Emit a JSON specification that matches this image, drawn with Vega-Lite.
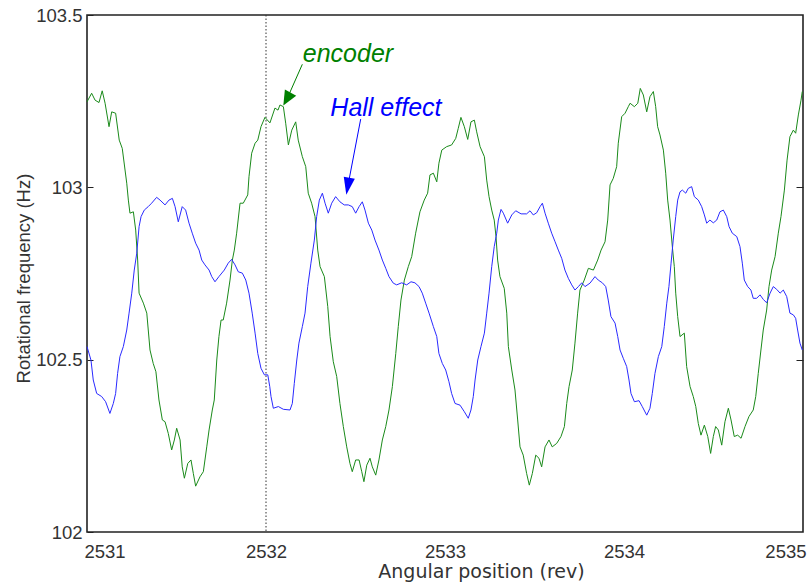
{
  "$schema": "https://vega.github.io/schema/vega-lite/v6.json",
  "width": 716,
  "height": 517,
  "autosize": {"type": "none"},
  "padding": {"left": 87, "top": 15, "right": 6, "bottom": 55},
  "background": "white",
  "config": {
    "view": {"stroke": "#222222", "strokeWidth": 1.6},
    "font": "Liberation Sans",
    "axis": {"labelFont": "Liberation Sans", "titleFont": "Liberation Sans", "labelColor": "#333333", "titleColor": "#333333", "grid": false, "domain": false, "titleFontWeight": "normal"}
  },
  "datasets": {
    "encoder": [
      {"x":2531.000,"y":103.248},{"x":2531.026,"y":103.273},{"x":2531.045,"y":103.253},{"x":2531.067,"y":103.246},{"x":2531.085,"y":103.280},{"x":2531.101,"y":103.244},{"x":2531.123,"y":103.176},{"x":2531.138,"y":103.219},{"x":2531.160,"y":103.215},{"x":2531.180,"y":103.137},{"x":2531.197,"y":103.113},{"x":2531.222,"y":103.012},{"x":2531.231,"y":102.963},{"x":2531.240,"y":102.925},{"x":2531.259,"y":102.929},{"x":2531.272,"y":102.876},{"x":2531.283,"y":102.789},{"x":2531.291,"y":102.693},{"x":2531.315,"y":102.664},{"x":2531.334,"y":102.635},{"x":2531.352,"y":102.528},{"x":2531.370,"y":102.489},{"x":2531.385,"y":102.465},{"x":2531.402,"y":102.383},{"x":2531.421,"y":102.325},{"x":2531.436,"y":102.320},{"x":2531.454,"y":102.286},{"x":2531.473,"y":102.238},{"x":2531.488,"y":102.267},{"x":2531.501,"y":102.301},{"x":2531.520,"y":102.267},{"x":2531.532,"y":102.189},{"x":2531.544,"y":102.156},{"x":2531.563,"y":102.199},{"x":2531.581,"y":102.209},{"x":2531.594,"y":102.170},{"x":2531.607,"y":102.133},{"x":2531.631,"y":102.160},{"x":2531.650,"y":102.175},{"x":2531.669,"y":102.247},{"x":2531.682,"y":102.296},{"x":2531.700,"y":102.354},{"x":2531.711,"y":102.383},{"x":2531.725,"y":102.499},{"x":2531.737,"y":102.567},{"x":2531.749,"y":102.615},{"x":2531.761,"y":102.615},{"x":2531.780,"y":102.664},{"x":2531.799,"y":102.731},{"x":2531.812,"y":102.789},{"x":2531.823,"y":102.818},{"x":2531.836,"y":102.867},{"x":2531.855,"y":102.954},{"x":2531.873,"y":102.954},{"x":2531.898,"y":102.978},{"x":2531.905,"y":103.031},{"x":2531.920,"y":103.099},{"x":2531.939,"y":103.128},{"x":2531.954,"y":103.137},{"x":2531.972,"y":103.176},{"x":2531.994,"y":103.203},{"x":2532.022,"y":103.187},{"x":2532.050,"y":103.230},{"x":2532.067,"y":103.224},{"x":2532.078,"y":103.239},{"x":2532.097,"y":103.234},{"x":2532.110,"y":103.186},{"x":2532.125,"y":103.123},{"x":2532.144,"y":103.166},{"x":2532.166,"y":103.190},{"x":2532.180,"y":103.137},{"x":2532.203,"y":103.089},{"x":2532.222,"y":103.060},{"x":2532.236,"y":102.983},{"x":2532.255,"y":102.954},{"x":2532.274,"y":102.915},{"x":2532.289,"y":102.818},{"x":2532.302,"y":102.770},{"x":2532.326,"y":102.741},{"x":2532.345,"y":102.654},{"x":2532.358,"y":102.567},{"x":2532.376,"y":102.494},{"x":2532.395,"y":102.451},{"x":2532.413,"y":102.373},{"x":2532.432,"y":102.306},{"x":2532.451,"y":102.247},{"x":2532.469,"y":102.199},{"x":2532.482,"y":102.175},{"x":2532.501,"y":102.209},{"x":2532.520,"y":102.209},{"x":2532.535,"y":102.175},{"x":2532.547,"y":102.146},{"x":2532.563,"y":102.194},{"x":2532.581,"y":102.214},{"x":2532.594,"y":102.189},{"x":2532.613,"y":102.165},{"x":2532.631,"y":102.209},{"x":2532.650,"y":102.267},{"x":2532.669,"y":102.306},{"x":2532.687,"y":102.354},{"x":2532.706,"y":102.422},{"x":2532.725,"y":102.518},{"x":2532.739,"y":102.596},{"x":2532.754,"y":102.673},{"x":2532.773,"y":102.731},{"x":2532.795,"y":102.770},{"x":2532.814,"y":102.799},{"x":2532.836,"y":102.867},{"x":2532.860,"y":102.929},{"x":2532.884,"y":102.963},{"x":2532.903,"y":102.983},{"x":2532.916,"y":103.036},{"x":2532.935,"y":103.041},{"x":2532.954,"y":103.016},{"x":2532.966,"y":103.070},{"x":2532.982,"y":103.108},{"x":2533.009,"y":103.118},{"x":2533.037,"y":103.123},{"x":2533.060,"y":103.142},{"x":2533.074,"y":103.171},{"x":2533.089,"y":103.203},{"x":2533.108,"y":103.176},{"x":2533.127,"y":103.139},{"x":2533.145,"y":103.190},{"x":2533.164,"y":103.195},{"x":2533.177,"y":103.161},{"x":2533.196,"y":103.118},{"x":2533.220,"y":103.089},{"x":2533.233,"y":103.021},{"x":2533.246,"y":102.973},{"x":2533.261,"y":102.934},{"x":2533.275,"y":102.905},{"x":2533.285,"y":102.857},{"x":2533.294,"y":102.789},{"x":2533.307,"y":102.741},{"x":2533.331,"y":102.707},{"x":2533.345,"y":102.635},{"x":2533.354,"y":102.538},{"x":2533.373,"y":102.470},{"x":2533.391,"y":102.412},{"x":2533.406,"y":102.325},{"x":2533.419,"y":102.247},{"x":2533.437,"y":102.223},{"x":2533.456,"y":102.170},{"x":2533.471,"y":102.136},{"x":2533.488,"y":102.170},{"x":2533.507,"y":102.223},{"x":2533.525,"y":102.214},{"x":2533.540,"y":102.189},{"x":2533.559,"y":102.247},{"x":2533.581,"y":102.267},{"x":2533.599,"y":102.247},{"x":2533.624,"y":102.257},{"x":2533.648,"y":102.277},{"x":2533.667,"y":102.306},{"x":2533.680,"y":102.373},{"x":2533.693,"y":102.422},{"x":2533.711,"y":102.470},{"x":2533.726,"y":102.548},{"x":2533.741,"y":102.635},{"x":2533.754,"y":102.702},{"x":2533.778,"y":102.731},{"x":2533.801,"y":102.765},{"x":2533.829,"y":102.760},{"x":2533.853,"y":102.789},{"x":2533.872,"y":102.818},{"x":2533.894,"y":102.842},{"x":2533.909,"y":102.905},{"x":2533.922,"y":103.007},{"x":2533.940,"y":103.026},{"x":2533.959,"y":103.060},{"x":2533.968,"y":103.128},{"x":2533.987,"y":103.205},{"x":2534.006,"y":103.215},{"x":2534.024,"y":103.234},{"x":2534.034,"y":103.244},{"x":2534.058,"y":103.234},{"x":2534.077,"y":103.244},{"x":2534.091,"y":103.287},{"x":2534.108,"y":103.268},{"x":2534.127,"y":103.219},{"x":2534.145,"y":103.263},{"x":2534.164,"y":103.278},{"x":2534.177,"y":103.234},{"x":2534.188,"y":103.176},{"x":2534.201,"y":103.152},{"x":2534.220,"y":103.108},{"x":2534.233,"y":103.041},{"x":2534.244,"y":102.963},{"x":2534.257,"y":102.905},{"x":2534.270,"y":102.828},{"x":2534.281,"y":102.770},{"x":2534.289,"y":102.693},{"x":2534.300,"y":102.625},{"x":2534.313,"y":102.567},{"x":2534.337,"y":102.577},{"x":2534.350,"y":102.480},{"x":2534.369,"y":102.422},{"x":2534.387,"y":102.393},{"x":2534.401,"y":102.364},{"x":2534.415,"y":102.315},{"x":2534.430,"y":102.281},{"x":2534.449,"y":102.310},{"x":2534.468,"y":102.277},{"x":2534.484,"y":102.228},{"x":2534.499,"y":102.277},{"x":2534.512,"y":102.306},{"x":2534.527,"y":102.296},{"x":2534.546,"y":102.252},{"x":2534.564,"y":102.320},{"x":2534.583,"y":102.359},{"x":2534.598,"y":102.325},{"x":2534.616,"y":102.277},{"x":2534.635,"y":102.281},{"x":2534.654,"y":102.272},{"x":2534.676,"y":102.306},{"x":2534.698,"y":102.335},{"x":2534.722,"y":102.354},{"x":2534.736,"y":102.393},{"x":2534.750,"y":102.460},{"x":2534.765,"y":102.528},{"x":2534.778,"y":102.586},{"x":2534.797,"y":102.644},{"x":2534.810,"y":102.712},{"x":2534.825,"y":102.760},{"x":2534.844,"y":102.799},{"x":2534.862,"y":102.867},{"x":2534.877,"y":102.915},{"x":2534.896,"y":102.992},{"x":2534.911,"y":103.079},{"x":2534.927,"y":103.147},{"x":2534.946,"y":103.166},{"x":2534.959,"y":103.157},{"x":2534.974,"y":103.210},{"x":2534.989,"y":103.253},{"x":2534.996,"y":103.278}
    ],
    "hall": [
      {"x":2531.000,"y":102.538},{"x":2531.022,"y":102.499},{"x":2531.035,"y":102.441},{"x":2531.054,"y":102.402},{"x":2531.082,"y":102.393},{"x":2531.104,"y":102.378},{"x":2531.128,"y":102.344},{"x":2531.147,"y":102.373},{"x":2531.160,"y":102.402},{"x":2531.171,"y":102.460},{"x":2531.184,"y":102.509},{"x":2531.203,"y":102.538},{"x":2531.222,"y":102.586},{"x":2531.235,"y":102.635},{"x":2531.250,"y":102.693},{"x":2531.264,"y":102.760},{"x":2531.278,"y":102.809},{"x":2531.291,"y":102.886},{"x":2531.302,"y":102.915},{"x":2531.320,"y":102.934},{"x":2531.342,"y":102.944},{"x":2531.361,"y":102.954},{"x":2531.389,"y":102.971},{"x":2531.408,"y":102.963},{"x":2531.436,"y":102.949},{"x":2531.458,"y":102.963},{"x":2531.477,"y":102.968},{"x":2531.492,"y":102.944},{"x":2531.510,"y":102.900},{"x":2531.532,"y":102.944},{"x":2531.551,"y":102.934},{"x":2531.570,"y":102.896},{"x":2531.588,"y":102.867},{"x":2531.607,"y":102.838},{"x":2531.626,"y":102.818},{"x":2531.641,"y":102.789},{"x":2531.659,"y":102.775},{"x":2531.682,"y":102.760},{"x":2531.697,"y":102.741},{"x":2531.715,"y":102.726},{"x":2531.737,"y":102.741},{"x":2531.767,"y":102.760},{"x":2531.789,"y":102.780},{"x":2531.808,"y":102.791},{"x":2531.827,"y":102.775},{"x":2531.845,"y":102.755},{"x":2531.868,"y":102.751},{"x":2531.887,"y":102.731},{"x":2531.905,"y":102.693},{"x":2531.923,"y":102.635},{"x":2531.939,"y":102.577},{"x":2531.954,"y":102.518},{"x":2531.972,"y":102.475},{"x":2531.991,"y":102.456},{"x":2532.010,"y":102.456},{"x":2532.021,"y":102.422},{"x":2532.028,"y":102.393},{"x":2532.041,"y":102.359},{"x":2532.069,"y":102.364},{"x":2532.097,"y":102.356},{"x":2532.134,"y":102.354},{"x":2532.147,"y":102.373},{"x":2532.158,"y":102.431},{"x":2532.172,"y":102.499},{"x":2532.184,"y":102.548},{"x":2532.203,"y":102.596},{"x":2532.218,"y":102.635},{"x":2532.233,"y":102.712},{"x":2532.251,"y":102.780},{"x":2532.270,"y":102.847},{"x":2532.283,"y":102.915},{"x":2532.298,"y":102.963},{"x":2532.315,"y":102.983},{"x":2532.330,"y":102.954},{"x":2532.348,"y":102.925},{"x":2532.367,"y":102.954},{"x":2532.389,"y":102.973},{"x":2532.413,"y":102.958},{"x":2532.437,"y":102.949},{"x":2532.460,"y":102.949},{"x":2532.482,"y":102.944},{"x":2532.501,"y":102.925},{"x":2532.520,"y":102.944},{"x":2532.538,"y":102.958},{"x":2532.553,"y":102.934},{"x":2532.572,"y":102.896},{"x":2532.591,"y":102.876},{"x":2532.609,"y":102.847},{"x":2532.631,"y":102.818},{"x":2532.650,"y":102.789},{"x":2532.669,"y":102.765},{"x":2532.687,"y":102.741},{"x":2532.711,"y":102.722},{"x":2532.730,"y":102.717},{"x":2532.758,"y":102.723},{"x":2532.786,"y":102.717},{"x":2532.810,"y":102.726},{"x":2532.832,"y":102.723},{"x":2532.855,"y":102.712},{"x":2532.873,"y":102.693},{"x":2532.892,"y":102.664},{"x":2532.911,"y":102.635},{"x":2532.935,"y":102.596},{"x":2532.954,"y":102.567},{"x":2532.966,"y":102.518},{"x":2532.985,"y":102.489},{"x":2533.004,"y":102.470},{"x":2533.022,"y":102.436},{"x":2533.037,"y":102.402},{"x":2533.056,"y":102.373},{"x":2533.084,"y":102.368},{"x":2533.108,"y":102.349},{"x":2533.130,"y":102.330},{"x":2533.145,"y":102.354},{"x":2533.158,"y":102.393},{"x":2533.168,"y":102.441},{"x":2533.183,"y":102.499},{"x":2533.201,"y":102.538},{"x":2533.220,"y":102.577},{"x":2533.233,"y":102.635},{"x":2533.246,"y":102.693},{"x":2533.261,"y":102.770},{"x":2533.275,"y":102.828},{"x":2533.289,"y":102.867},{"x":2533.298,"y":102.905},{"x":2533.313,"y":102.936},{"x":2533.326,"y":102.925},{"x":2533.350,"y":102.896},{"x":2533.373,"y":102.920},{"x":2533.395,"y":102.932},{"x":2533.425,"y":102.923},{"x":2533.456,"y":102.923},{"x":2533.475,"y":102.932},{"x":2533.493,"y":102.920},{"x":2533.512,"y":102.926},{"x":2533.531,"y":102.944},{"x":2533.544,"y":102.954},{"x":2533.559,"y":102.925},{"x":2533.577,"y":102.896},{"x":2533.596,"y":102.867},{"x":2533.615,"y":102.842},{"x":2533.633,"y":102.818},{"x":2533.652,"y":102.794},{"x":2533.670,"y":102.760},{"x":2533.689,"y":102.736},{"x":2533.708,"y":102.717},{"x":2533.726,"y":102.702},{"x":2533.745,"y":102.712},{"x":2533.764,"y":102.723},{"x":2533.782,"y":102.712},{"x":2533.810,"y":102.722},{"x":2533.838,"y":102.741},{"x":2533.856,"y":102.731},{"x":2533.879,"y":102.723},{"x":2533.898,"y":102.712},{"x":2533.912,"y":102.673},{"x":2533.927,"y":102.625},{"x":2533.950,"y":102.606},{"x":2533.965,"y":102.567},{"x":2533.978,"y":102.528},{"x":2533.996,"y":102.504},{"x":2534.015,"y":102.480},{"x":2534.028,"y":102.441},{"x":2534.039,"y":102.402},{"x":2534.058,"y":102.378},{"x":2534.084,"y":102.381},{"x":2534.102,"y":102.364},{"x":2534.127,"y":102.339},{"x":2534.145,"y":102.359},{"x":2534.158,"y":102.402},{"x":2534.173,"y":102.460},{"x":2534.192,"y":102.509},{"x":2534.211,"y":102.538},{"x":2534.225,"y":102.596},{"x":2534.239,"y":102.664},{"x":2534.251,"y":102.712},{"x":2534.263,"y":102.780},{"x":2534.275,"y":102.847},{"x":2534.289,"y":102.915},{"x":2534.300,"y":102.963},{"x":2534.313,"y":102.987},{"x":2534.326,"y":102.992},{"x":2534.345,"y":102.983},{"x":2534.359,"y":102.997},{"x":2534.378,"y":103.002},{"x":2534.393,"y":102.973},{"x":2534.415,"y":102.963},{"x":2534.434,"y":102.944},{"x":2534.449,"y":102.920},{"x":2534.462,"y":102.896},{"x":2534.480,"y":102.905},{"x":2534.499,"y":102.897},{"x":2534.518,"y":102.905},{"x":2534.536,"y":102.929},{"x":2534.555,"y":102.934},{"x":2534.574,"y":102.915},{"x":2534.587,"y":102.886},{"x":2534.605,"y":102.867},{"x":2534.630,"y":102.857},{"x":2534.648,"y":102.828},{"x":2534.661,"y":102.780},{"x":2534.672,"y":102.731},{"x":2534.691,"y":102.712},{"x":2534.709,"y":102.702},{"x":2534.722,"y":102.678},{"x":2534.741,"y":102.678},{"x":2534.760,"y":102.688},{"x":2534.778,"y":102.675},{"x":2534.797,"y":102.665},{"x":2534.816,"y":102.693},{"x":2534.834,"y":102.712},{"x":2534.853,"y":102.704},{"x":2534.872,"y":102.693},{"x":2534.890,"y":102.702},{"x":2534.909,"y":102.683},{"x":2534.927,"y":102.635},{"x":2534.946,"y":102.630},{"x":2534.959,"y":102.620},{"x":2534.970,"y":102.586},{"x":2534.983,"y":102.548},{"x":2534.996,"y":102.528}
    ],
    "arrows": [
      {"name":"encoder","x":2532.203,"y":103.357,"x2":2532.117,"y2":103.256,"color":"#008000"},
      {"name":"Hall effect","x":2532.529,"y":103.198,"x2":2532.457,"y2":103.003,"color":"#0000ff"}
    ],
    "heads": [
      {"x":2532.117,"y":103.256,"angle":209,"size":222,"shape":"M0,-1L0.87,1L-0.87,1Z","color":"#008000"},
      {"x":2532.457,"y":103.003,"angle":190,"size":299,"shape":"M0,-1L0.65,1L-0.65,1Z","color":"#0000ff"}
    ],
    "labels": [
      {"label":"encoder","x":2532.458,"y":103.365,"color":"#008000"},
      {"label":"Hall effect","x":2532.670,"y":103.207,"color":"#0000ff"}
    ],
    "marker": [{"x":2532}],
    "frame": [{"y":102},{"y":103.5}]
  },
  "resolve": {"axis": {"y": "independent"}},
  "encoding": {
    "x": {
      "field": "x", "type": "quantitative",
      "scale": {"domain": [2531, 2535], "nice": false, "zero": false},
      "axis": {"values": [2531, 2532, 2533, 2534, 2535], "format": "d", "ticks": false, "tickSize": 0, "labelFontSize": 18.5, "labelPadding": 10, "labelFlush": true, "labelFlushOffset": 3, "title": "Angular position (rev)", "titleFont": "DejaVu Sans", "titleFontSize": 19, "titleX": 394, "titleY": 30, "titleBaseline": "top"}
    }
  },
  "layer": [
    {
      "data": {"name": "marker"},
      "mark": {"type": "rule", "color": "#333333", "strokeWidth": 1, "strokeDash": [1.5, 2]},
      "encoding": {}
    },
    {
      "data": {"name": "encoder"},
      "mark": {"type": "line", "color": "#1a8a1a", "strokeWidth": 1},
      "encoding": {
        "y": {"field": "y", "type": "quantitative", "scale": {"domain": [102, 103.5], "nice": false, "zero": false},
          "axis": {"orient": "left", "values": [102, 102.5, 103, 103.5], "format": ".1~f", "tickSize": -6, "tickColor": "#222222", "tickWidth": 1, "labelFontSize": 18.5, "labelPadding": 11, "title": "Rotational frequency (Hz)", "titleFontSize": 18.5, "titleX": -54, "titleY": 263, "titleAngle": -90, "titleBaseline": "bottom"}}
      }
    },
    {
      "data": {"name": "hall"},
      "mark": {"type": "line", "color": "#2a2aff", "strokeWidth": 1},
      "encoding": {
        "y": {"field": "y", "type": "quantitative", "scale": {"domain": [102, 103.5], "nice": false, "zero": false}, "axis": null}
      }
    },
    {
      "data": {"name": "frame"},
      "mark": {"type": "point", "opacity": 0},
      "encoding": {
        "x": {"value": 0},
        "y": {"field": "y", "type": "quantitative", "scale": {"domain": [102, 103.5], "nice": false, "zero": false},
          "axis": {"orient": "right", "values": [102.5, 103], "labels": false, "tickSize": -7, "tickColor": "#222222", "tickWidth": 1, "title": null}}
      }
    },
    {
      "data": {"name": "arrows"},
      "mark": {"type": "rule", "strokeWidth": 1},
      "encoding": {
        "x2": {"field": "x2"},
        "y": {"field": "y", "type": "quantitative", "scale": {"domain": [102, 103.5], "nice": false, "zero": false}, "axis": null},
        "y2": {"field": "y2"},
        "color": {"field": "color", "type": "nominal", "scale": null}
      }
    },
    {
      "data": {"name": "heads"},
      "mark": {"type": "point", "filled": true, "opacity": 1, "strokeWidth": 0},
      "encoding": {
        "y": {"field": "y", "type": "quantitative", "scale": {"domain": [102, 103.5], "nice": false, "zero": false}, "axis": null},
        "angle": {"field": "angle", "type": "quantitative", "scale": null},
        "size": {"field": "size", "type": "quantitative", "scale": null},
        "shape": {"field": "shape", "type": "nominal", "scale": null},
        "color": {"field": "color", "type": "nominal", "scale": null}
      }
    },
    {
      "data": {"name": "labels"},
      "mark": {"type": "text", "font": "Liberation Sans", "fontStyle": "italic", "fontSize": 25, "align": "center", "baseline": "alphabetic"},
      "encoding": {
        "y": {"field": "y", "type": "quantitative", "scale": {"domain": [102, 103.5], "nice": false, "zero": false}, "axis": null},
        "text": {"field": "label"},
        "color": {"field": "color", "type": "nominal", "scale": null}
      }
    }
  ]
}
